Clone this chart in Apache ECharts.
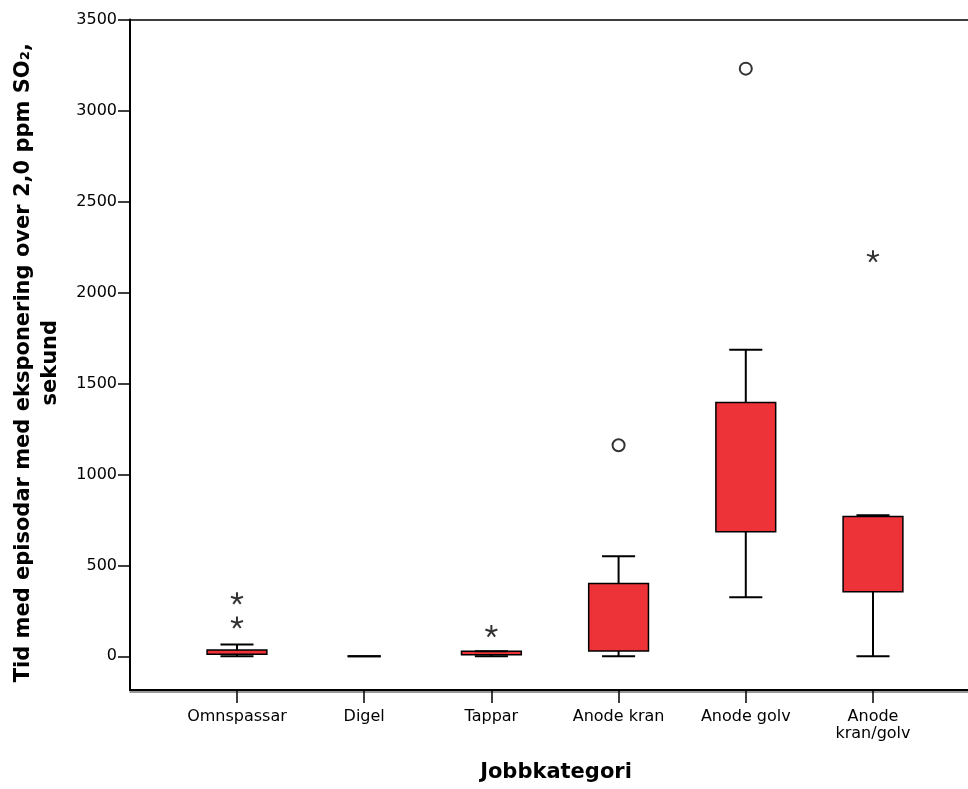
<!DOCTYPE html>
<html>
<head>
<meta charset="utf-8">
<script src="https://cdn.jsdelivr.net/npm/echarts@6/dist/echarts.min.js"></script>
<style>
  html, body { margin: 0; padding: 0; background: #fff; }
  #chart { width: 968px; height: 789px; }
</style>
</head>
<body>
<div id="chart"></div>
<script>
// Job categories along the x axis
const categories = ['Omnspassar', 'Digel', 'Tappar', 'Anode kran', 'Anode golv', 'Anode\nkran/golv'];
// Box-plot statistics per category (seconds)
const whiskerLow  = [0, 0, 0, 0, 325, 0];
const quartile1   = [12, 0, 9, 30, 685, 355];
const quartile3   = [35, 0, 28, 400, 1395, 768];
const whiskerHigh = [65, 0, 28, 550, 1685, 775];
// Outliers: [category index, value]
const outlierCircles = [[3, 1160], [4, 3230]];
const outlierStars   = [[0, 320], [0, 187], [2, 140], [5, 2200]];
// Y axis tick values
const yTicks = [0, 500, 1000, 1500, 2000, 2500, 3000, 3500];

const FONT = 'DejaVu Sans';
const catIndex = categories.map((c, i) => i);
const boxData = categories.map((c, i) => [i, whiskerLow[i], quartile1[i], quartile3[i], whiskerHigh[i]]);

function renderBox(params, api) {
  const i = api.value(0);
  const lo = api.coord([i, api.value(1)]);
  const b1 = api.coord([i, api.value(2)]);
  const b3 = api.coord([i, api.value(3)]);
  const hi = api.coord([i, api.value(4)]);
  const band = api.size([1, 0])[0];
  const bw = band * 0.47;
  const cw = band * 0.26;
  const x = lo[0];
  const ls = { stroke: '#000', lineWidth: 2 };
  const children = [
    { type: 'line', shape: { x1: x, y1: hi[1], x2: x, y2: lo[1] }, style: ls }
  ];
  if (b1[1] - b3[1] > 0.5) {
    children.push({
      type: 'rect',
      shape: { x: x - bw / 2, y: b3[1], width: bw, height: b1[1] - b3[1] },
      style: { fill: '#EE3338', stroke: '#000', lineWidth: 1.5 }
    });
  }
  children.push({ type: 'line', shape: { x1: x - cw / 2, y1: hi[1], x2: x + cw / 2, y2: hi[1] }, style: ls });
  children.push({ type: 'line', shape: { x1: x - cw / 2, y1: lo[1], x2: x + cw / 2, y2: lo[1] }, style: ls });
  return { type: 'group', children: children };
}

// five-armed asterisk drawn as strokes
const starPath = 'path://M10,0L10,10M19.51,6.91L10,10M15.88,18.09L10,10M4.12,18.09L10,10M0.49,6.91L10,10';

const chart = echarts.init(document.getElementById('chart'), null, { renderer: 'canvas' });
chart.setOption({
  animation: false,
  backgroundColor: '#fff',
  grid: { left: 130, top: 19.5, width: 852, bottom: 99, containLabel: false, outerBoundsMode: 'none' },
  xAxis: [
    {
      type: 'value',
      min: -0.841,
      max: 5.857,
      axisLine: { show: true, onZero: false, lineStyle: { color: '#000', width: 2 } },
      axisTick: { show: true, length: 13, customValues: catIndex, lineStyle: { color: '#000', width: 1.5 } },
      axisLabel: {
        customValues: catIndex,
        formatter: v => categories[Math.round(v)],
        fontFamily: FONT, fontSize: 16, color: '#000', margin: 18, lineHeight: 17
      },
      splitLine: { show: false },
      name: 'Jobbkategori',
      nameLocation: 'middle',
      nameGap: 72,
      nameTextStyle: { fontFamily: FONT, fontWeight: 'bold', fontSize: 21, color: '#000' }
    },
    {
      type: 'value', position: 'bottom', offset: 2,
      axisLine: { show: true, onZero: false, lineStyle: { color: '#777', width: 1.5 } },
      axisTick: { show: false }, axisLabel: { show: false }, splitLine: { show: false }
    },
    {
      type: 'value', position: 'top',
      axisLine: { show: true, onZero: false, lineStyle: { color: '#000', width: 1.5 } },
      axisTick: { show: false }, axisLabel: { show: false }, splitLine: { show: false }
    }
  ],
  yAxis: {
    type: 'value',
    min: -185,
    max: 3500,
    axisLine: { show: true, onZero: false, lineStyle: { color: '#000', width: 2 } },
    axisTick: { show: true, length: 12, customValues: yTicks, lineStyle: { color: '#000', width: 1.5 } },
    axisLabel: { customValues: yTicks, formatter: v => String(v), fontFamily: FONT, fontSize: 16, color: '#000', margin: 13 },
    splitLine: { show: false },
    name: 'Tid med episodar med eksponering over 2,0 ppm SO\u2082,\nsekund',
    nameLocation: 'middle',
    nameGap: 66,
    nameTextStyle: { fontFamily: FONT, fontWeight: 'bold', fontSize: 21, color: '#000', lineHeight: 27, padding: [0, 16, 0, 0] }
  },
  series: [
    {
      type: 'custom',
      renderItem: renderBox,
      data: boxData,
      encode: { x: 0, y: [1, 2, 3, 4] },
      silent: true
    },
    {
      type: 'scatter',
      data: outlierCircles,
      symbol: 'circle',
      symbolSize: 12,
      itemStyle: { color: '#fff', borderColor: '#000', borderWidth: 2 },
      silent: true
    },
    {
      type: 'scatter',
      data: outlierStars,
      symbol: starPath,
      symbolSize: [12, 11.5],
      itemStyle: { color: 'none', borderColor: '#000', borderWidth: 2 },
      silent: true
    }
  ]
});
</script>
</body>
</html>
